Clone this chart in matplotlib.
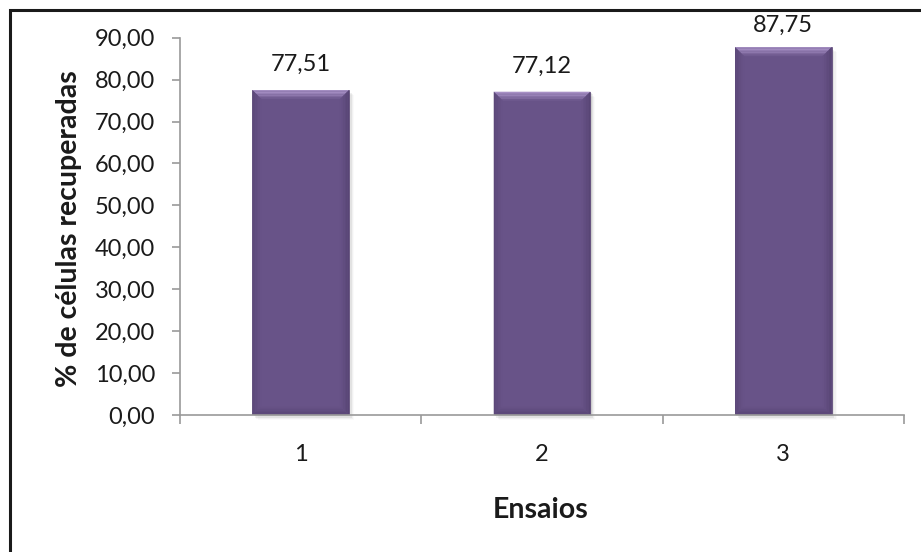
import matplotlib
matplotlib.use("Agg")
import matplotlib.pyplot as plt
from matplotlib.patches import Polygon, Rectangle
import matplotlib.colors as mcolors
import numpy as np

# Data
ensaios = ["1", "2", "3"]
recuperadas = [77.51, 77.12, 87.75]
y_ticks = [0, 10, 20, 30, 40, 50, 60, 70, 80, 90]

plt.rcParams["font.family"] = ["Lato", "DejaVu Sans"]

W, H, DPI = 921, 552, 100
fig = plt.figure(figsize=(W / DPI, H / DPI), dpi=DPI)
fig.patch.set_facecolor("white")

# plot area in pixels
x0, x1 = 180, 904
y_top, y_bot = 37.7, 415
ax = fig.add_axes([x0 / W, 1 - y_bot / H, (x1 - x0) / W, (y_bot - y_top) / H])
ax.set_xlim(0.5, 3.5)
ax.set_ylim(0, 90)

px_x = (x1 - x0) / 3.0          # pixels per x unit
px_y = (y_bot - y_top) / 90.0   # pixels per y unit

base = np.array(mcolors.to_rgb("#685388"))
light = np.array(mcolors.to_rgb("#a891c6"))
dark = np.array(mcolors.to_rgb("#54416f"))
width = 0.40
bev_px = 9
n_steps = 6


def mix(c1, c2, t):
    return tuple(c1 * (1 - t) + c2 * t)


xs = list(range(1, len(ensaios) + 1))
for x, v in zip(xs, recuperadas):
    l, r = x - width / 2, x + width / 2
    # soft drop shadow
    for k, a in enumerate([0.09, 0.06, 0.035, 0.02]):
        d = (k + 1) * 1.3
        ax.add_patch(Rectangle((l + d / px_x, 0 - d / px_y), width, v,
                               facecolor="black", alpha=a, lw=0, zorder=1,
                               clip_on=False))
    ax.bar(x, v, width=width, color=tuple(base), edgecolor="#5a4776",
           linewidth=0.5, zorder=2)
    # bevel faces, drawn as bands fading from the outer edge inwards
    for i in range(n_steps):
        t0 = i / n_steps
        t1 = (i + 1) / n_steps
        bx0, bx1 = bev_px * t0 / px_x, bev_px * t1 / px_x
        by0, by1 = bev_px * t0 / px_y, bev_px * t1 / px_y
        fade = (i + 0.5) / n_steps
        # top
        ax.add_patch(Polygon([(l + bx0, v - by0), (r - bx0, v - by0),
                              (r - bx1, v - by1), (l + bx1, v - by1)],
                             closed=True, lw=0, zorder=3,
                             facecolor=mix(light, base, fade ** 1.6)))
        # left
        ax.add_patch(Polygon([(l + bx0, v - by0), (l + bx1, v - by1),
                              (l + bx1, by1), (l + bx0, by0)],
                             closed=True, lw=0, zorder=3,
                             facecolor=mix(dark, base, 0.35 + 0.65 * fade)))
        # right
        ax.add_patch(Polygon([(r - bx0, v - by0), (r - bx1, v - by1),
                              (r - bx1, by1), (r - bx0, by0)],
                             closed=True, lw=0, zorder=3,
                             facecolor=mix(dark, base, 0.15 + 0.85 * fade)))
        # bottom
        ax.add_patch(Polygon([(l + bx0, by0), (r - bx0, by0),
                              (r - bx1, by1), (l + bx1, by1)],
                             closed=True, lw=0, zorder=3,
                             facecolor=mix(dark, base, 0.2 + 0.8 * fade)))
    # value label, kept inside the chart area
    ly = min(v + 15 / px_y, 90.4)
    ax.text(x, ly, f"{v:.2f}".replace(".", ","), ha="center", va="bottom",
            fontsize=17, color="#1a1a1a", clip_on=False, zorder=5)

ax.set_yticks(y_ticks)
ax.set_yticklabels([f"{t:.2f}".replace(".", ",") for t in y_ticks])
ax.set_xticks(xs)
ax.set_xticklabels(ensaios)
ax.set_xticks([0.5, 1.5, 2.5, 3.5], minor=True)

grey = "#9a9a9a"
for s in ["top", "right"]:
    ax.spines[s].set_visible(False)
for s in ["left", "bottom"]:
    ax.spines[s].set_color(grey)
    ax.spines[s].set_linewidth(1.2)
    ax.spines[s].set_zorder(4)

ax.tick_params(axis="y", direction="out", length=6, width=1.2, color=grey,
               pad=12, labelsize=17, labelcolor="#1a1a1a")
ax.tick_params(axis="x", which="major", length=0, pad=21, labelsize=17,
               labelcolor="#1a1a1a")
ax.tick_params(axis="x", which="minor", direction="out", length=6.5, width=1.2,
               color=grey)

fig.text(69 / W, 1 - 229 / H, "% de células recuperadas", rotation=90,
         ha="center", va="center", fontsize=20.5, fontweight="bold",
         color="#1a1a1a")
fig.text(541 / W, 1 - 510 / H, "Ensaios", ha="center", va="center",
         fontsize=20.5, fontweight="bold", color="#1a1a1a")

# outer chart frame
fig.add_artist(Rectangle((10 / W, -0.2), 1.2, 1.2 - 9.5 / H,
                         transform=fig.transFigure, fill=False,
                         edgecolor="#1a1a1a", linewidth=2.2, clip_on=False))

fig.savefig("out.png", dpi=DPI, facecolor="white")
